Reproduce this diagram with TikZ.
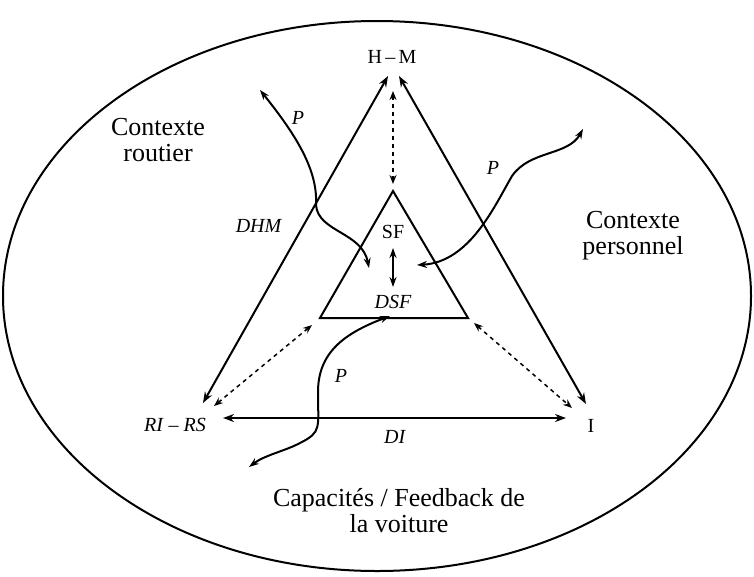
\documentclass[tikz,border=0pt]{standalone}
\usepackage{fontspec}
\setmainfont{Liberation Serif}
\usetikzlibrary{arrows.meta}
\begin{document}
\begin{tikzpicture}[x=1pt,y=-1pt,
  bigtext/.style={font=\fontsize{26}{26}\selectfont,align=center,inner sep=0pt},
  smalltext/.style={font=\fontsize{20}{20}\selectfont,inner sep=0pt},
  mainline/.style={line width=2pt,{Stealth[length=11pt,width=8pt]}-{Stealth[length=11pt,width=8pt]}},
  dashline/.style={line width=1.5pt,dash pattern=on 4pt off 4pt,{Stealth[length=9pt,width=7pt]}-{Stealth[length=9pt,width=7pt]}},
  pline/.style={line width=2pt,{Stealth[length=10pt,width=7pt]}-{Stealth[length=10pt,width=7pt]}}]
\useasboundingbox (0,0) rectangle (754,576);
% outer ellipse
\draw[line width=2pt] (377,296) ellipse [x radius=374, y radius=275];
% labels
\node[bigtext] (routier) at (158,140) {Contexte\\routier};
\node[bigtext] (perso) at (633,236) {Contexte\\personnel};
\node[bigtext] (capa) at (399,511) {Capacités / Feedback de\\la voiture};
\node[smalltext] (hm) at (392,57) {H\,--\,M};
\node[smalltext] (rirs) at (175,425) {\textit{RI} -- \textit{RS}};
\node[smalltext] (i) at (591,426) {I};
\node[smalltext] (di) at (395,437) {\textit{DI}};
\node[smalltext] (dhm) at (259,226) {\textit{DHM}};
\node[smalltext] (sf) at (393,232) {SF};
\node[smalltext] (dsf) at (393,302) {\textit{DSF}};
\node[smalltext] (p1) at (298,118) {\textit{P}};
\node[smalltext] (p2) at (493,168) {\textit{P}};
\node[smalltext] (p3) at (341,376) {\textit{P}};
% outer triangle arrows
\coordinate (lt) at (388,76);
\coordinate (lb) at (203,403);
\coordinate (rt) at (399,76);
\coordinate (rb) at (586,404);
\coordinate (bl) at (223,418);
\coordinate (br) at (566,418);
\draw[mainline] (lb) -- (lt);
\draw[mainline] (rt) -- (rb);
\draw[mainline] (bl) -- (br);
% inner triangle
\coordinate (ia) at (393,191);
\coordinate (il) at (320,318);
\coordinate (ir) at (468,318);
\draw[line width=2pt,line join=miter] (ia) -- (il) -- (ir) -- cycle;
% SF <-> DSF
\coordinate (sfa) at (393,248);
\coordinate (sfb) at (393,287);
\draw[pline] (sfa) -- (sfb);
% dashed arrows
\coordinate (dt1) at (393,91);
\coordinate (dt2) at (393,184);
\draw[dashline] (dt1) -- (dt2);
\coordinate (dl1) at (312,325);
\coordinate (dl2) at (214,406);
\draw[dashline] (dl1) -- (dl2);
\coordinate (dr1) at (474,323);
\coordinate (dr2) at (572,408);
\draw[dashline] (dr1) -- (dr2);
% P curves
\coordinate (pa1) at (260,90);
\coordinate (pa2) at (369,268);
\draw[pline] (pa1) .. controls (296,135) and (318,170) .. (316,205)
  .. controls (318,232) and (362,232) .. (pa2);
\coordinate (pb1) at (417,265);
\coordinate (pb2) at (583,129);
\draw[pline] (pb1) .. controls (470,262) and (495,205) .. (512,176)
  .. controls (530,150) and (568,156) .. (pb2);
\coordinate (pc1) at (390,316);
\coordinate (pc2) at (249,467);
\draw[pline] (pc1) .. controls (345,333) and (318,352) .. (318,392)
  .. controls (318,428) and (322,432) .. (300,443)
  .. controls (285,451) and (265,455) .. (pc2);
\end{tikzpicture}
\end{document}
